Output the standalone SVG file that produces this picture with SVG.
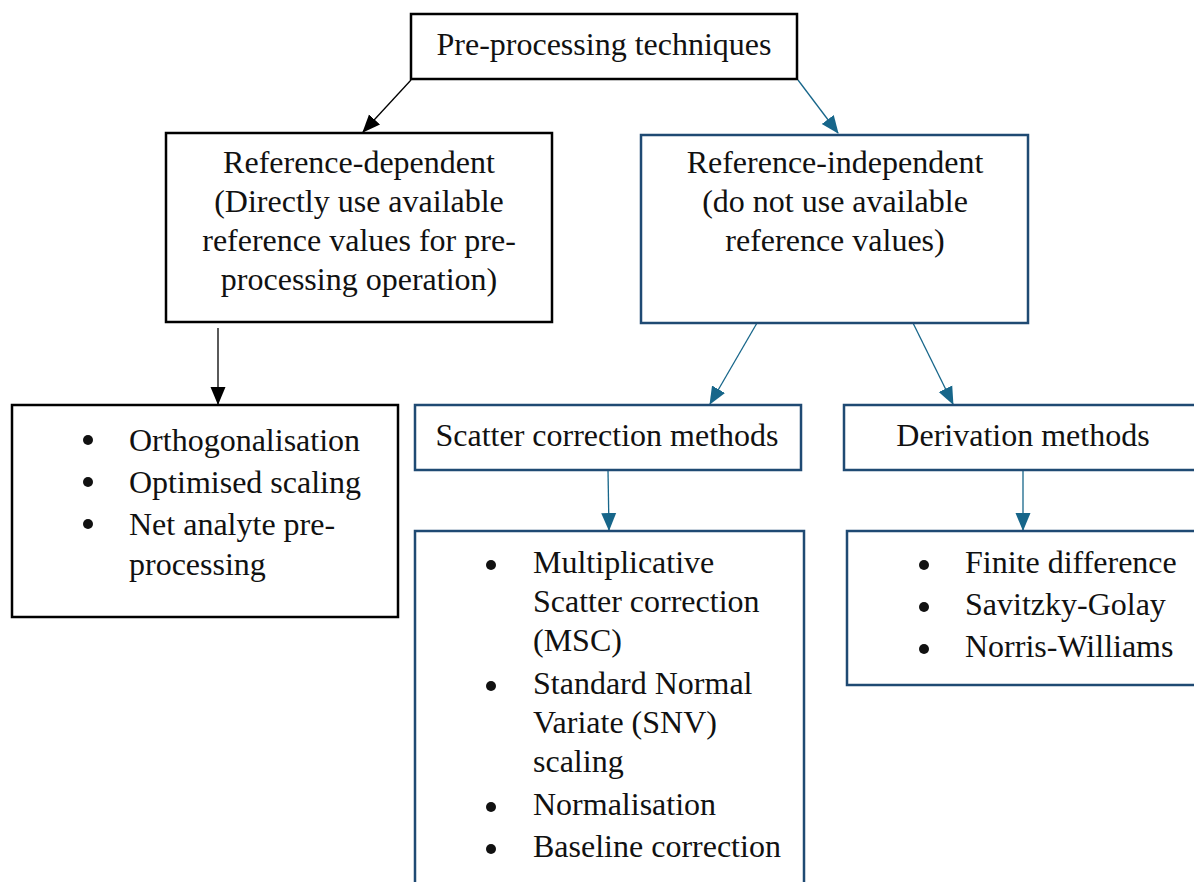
<svg xmlns="http://www.w3.org/2000/svg" width="1194" height="882" viewBox="0 0 1194 882">
<defs>
<style>
text{font-family:"Liberation Serif","Times New Roman",serif;font-size:32px;fill:#111}
.c{text-anchor:middle}
.dot{fill:#111}
.bk{fill:#fff;stroke:#000;stroke-width:2.5}
.bl{fill:#fff;stroke:#1F4A73;stroke-width:2.5}
.ak{stroke:#000;stroke-width:1.3;fill:none}
.ab{stroke:#17668A;stroke-width:1.3;fill:none}
</style>
<marker id="mk" markerUnits="userSpaceOnUse" markerWidth="18" markerHeight="18" viewBox="0 0 18 18" refX="17" refY="9" orient="auto">
<path d="M0,1.5 L18,9 L0,16.5 Z" fill="#000"/>
</marker>
<marker id="mb" markerUnits="userSpaceOnUse" markerWidth="18" markerHeight="18" viewBox="0 0 18 18" refX="17" refY="9" orient="auto">
<path d="M0,1.5 L18,9 L0,16.5 Z" fill="#17668A"/>
</marker>
</defs>
<rect width="1194" height="882" fill="#fff"/>
<g id="connectors">
<line class="ak" x1="411" y1="80" x2="363" y2="132" marker-end="url(#mk)"/>
<line class="ab" x1="798" y1="80" x2="838" y2="133" marker-end="url(#mb)"/>
<line class="ak" x1="218" y1="328" x2="218" y2="404" marker-end="url(#mk)"/>
<line class="ab" x1="757" y1="323" x2="710" y2="404" marker-end="url(#mb)"/>
<line class="ab" x1="913" y1="323" x2="953" y2="404" marker-end="url(#mb)"/>
<line class="ab" x1="608" y1="470" x2="609" y2="530" marker-end="url(#mb)"/>
<line class="ab" x1="1023" y1="470" x2="1023" y2="530" marker-end="url(#mb)"/>
</g>
<g id="root">
<rect class="bk" x="411" y="14" width="386" height="65"/>
<text class="c" x="604" y="55">Pre-processing techniques</text>
</g>
<g id="ref-dependent">
<rect class="bk" x="166" y="133" width="386" height="189"/>
<text class="c" x="359" y="173">Reference-dependent</text>
<text class="c" x="359" y="212">(Directly use available</text>
<text class="c" x="359" y="251">reference values for pre-</text>
<text class="c" x="359" y="290">processing operation)</text>
</g>
<g id="ref-independent">
<rect class="bl" x="641" y="135" width="387" height="188"/>
<text class="c" x="835" y="173">Reference-independent</text>
<text class="c" x="835" y="212">(do not use available</text>
<text class="c" x="835" y="251">reference values)</text>
</g>
<g id="dependent-list">
<rect class="bk" x="12" y="405" width="386" height="212"/>
<circle class="dot" cx="88" cy="440" r="5"/>
<text x="129" y="451">Orthogonalisation</text>
<circle class="dot" cx="88" cy="482" r="5"/>
<text x="129" y="493">Optimised scaling</text>
<circle class="dot" cx="88" cy="524" r="5"/>
<text x="129" y="535">Net analyte pre-</text>
<text x="129" y="575">processing</text>
</g>
<g id="scatter">
<rect class="bl" x="415" y="405" width="386" height="65"/>
<text class="c" x="607" y="446">Scatter correction methods</text>
</g>
<g id="derivation">
<rect class="bl" x="844" y="405" width="380" height="65"/>
<text class="c" x="1023" y="446">Derivation methods</text>
</g>
<g id="scatter-list">
<rect class="bl" x="415" y="531" width="389" height="380"/>
<circle class="dot" cx="491" cy="565" r="5"/>
<text x="533" y="573">Multiplicative</text>
<text x="533" y="612">Scatter correction</text>
<text x="533" y="651">(MSC)</text>
<circle class="dot" cx="491" cy="686" r="5"/>
<text x="533" y="694">Standard Normal</text>
<text x="533" y="733">Variate (SNV)</text>
<text x="533" y="772">scaling</text>
<circle class="dot" cx="491" cy="807" r="5"/>
<text x="533" y="815">Normalisation</text>
<circle class="dot" cx="491" cy="849" r="5"/>
<text x="533" y="857">Baseline correction</text>
</g>
<g id="derivation-list">
<rect class="bl" x="847" y="531" width="380" height="154"/>
<circle class="dot" cx="924" cy="565" r="5"/>
<text x="965" y="573">Finite difference</text>
<circle class="dot" cx="924" cy="607" r="5"/>
<text x="965" y="615">Savitzky-Golay</text>
<circle class="dot" cx="924" cy="649" r="5"/>
<text x="965" y="657">Norris-Williams</text>
</g>
</svg>
